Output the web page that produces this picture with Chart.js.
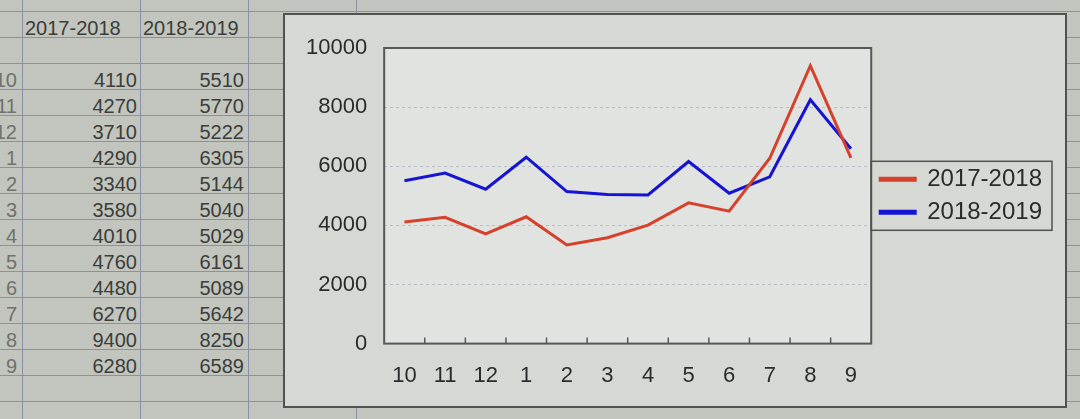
<!DOCTYPE html>
<html>
<head>
<meta charset="utf-8">
<script src="https://cdn.jsdelivr.net/npm/chart.js@4.4.0/dist/chart.umd.min.js"></script>
<style>
  html, body { margin: 0; padding: 0; width: 1080px; height: 419px; overflow: hidden; }
  body { position: relative; background: #c1c5bd; font-family: "Liberation Sans", Arial, sans-serif; }
  .hline { position: absolute; left: 0; width: 1080px; height: 1px; background: #8a90a6; }
  .vline { position: absolute; top: 0; height: 419px; width: 1px; background: #8a90a6; }
  .cell { position: absolute; height: 22px; line-height: 22px; font-size: 20px; color: #3b3d3a; white-space: nowrap; }
  .rowlab { color: #6e716c; }
  #frame { position: absolute; left: 283px; top: 13px; width: 784px; height: 395px;
           background: #d6d9d3; border: 2px solid #4f524e; box-sizing: border-box; }
  #frame canvas { position: absolute; left: -2px; top: -2px; }
</style>
</head>
<body>
<div id="sheet"></div>
<div id="frame"><canvas id="salesChart" width="784" height="395"></canvas></div>
<script>
// values
const months = ['10', '11', '12', '1', '2', '3', '4', '5', '6', '7', '8', '9'];
const sales1718 = [4110, 4270, 3710, 4290, 3340, 3580, 4010, 4760, 4480, 6270, 9400, 6280];
const sales1819 = [5510, 5770, 5222, 6305, 5144, 5040, 5029, 6161, 5089, 5642, 8250, 6589];
const seriesNames = ['2017-2018', '2018-2019'];
const yMax = 10000;
const yStep = 2000;

// spreadsheet behind the chart
function buildSheet() {
    let sheet = document.getElementById('sheet');
    let rowTop = 11, rowH = 26;
    let cols = [22, 140, 248, 356];

    for (let k = -1; k < 16; k++) {
        let l = document.createElement('div');
        l.className = 'hline';
        l.style.top = (rowTop + k * rowH) + 'px';
        sheet.appendChild(l);
    }
    cols.forEach(function (x) {
        let l = document.createElement('div');
        l.className = 'vline';
        l.style.left = x + 'px';
        sheet.appendChild(l);
    });

    function addText(txt, rowIdx, x, align, cls) {
        let d = document.createElement('div');
        d.className = 'cell' + (cls ? ' ' + cls : '');
        d.innerText = txt;
        let bottom = rowTop + (rowIdx + 1) * rowH;
        d.style.top = (bottom - 20) + 'px';
        if (align === 'right') {
            d.style.right = (1080 - x) + 'px';
        } else {
            d.style.left = x + 'px';
        }
        sheet.appendChild(d);
    }

    addText(seriesNames[0], 0, 25, 'left');
    addText(seriesNames[1], 0, 143, 'left');
    for (let i = 0; i < months.length; i++) {
        addText(months[i], i + 2, 17, 'right', 'rowlab');
        addText(String(sales1718[i]), i + 2, 137, 'right');
        addText(String(sales1819[i]), i + 2, 244, 'right');
    }
}
buildSheet();

// plot background, frame and small inward ticks on the category axis
const plotFrame = {
    id: 'plotFrame',
    beforeDraw(chart) {
        let a = chart.chartArea, c = chart.ctx;
        c.save();
        c.fillStyle = '#e1e3e0';
        c.fillRect(a.left, a.top, a.right - a.left, a.bottom - a.top);
        c.restore();
    },
    afterDraw(chart) {
        let a = chart.chartArea, c = chart.ctx, xs = chart.scales.x;
        c.save();
        c.strokeStyle = '#555855';
        c.lineWidth = 2;
        c.strokeRect(a.left, a.top, a.right - a.left, a.bottom - a.top);
        c.lineWidth = 1.5;
        c.beginPath();
        for (let i = 1; i < months.length; i++) {
            let x = (xs.getPixelForValue(i - 1) + xs.getPixelForValue(i)) / 2;
            c.moveTo(x, a.bottom);
            c.lineTo(x, a.bottom - 6);
        }
        c.stroke();

        // box round the legend items
        let lg = chart.legend;
        if (lg && lg.legendHitBoxes && lg.legendHitBoxes.length) {
            let hb = lg.legendHitBoxes;
            let top = hb[0].top - 6;
            let bottom = hb[hb.length - 1].top + hb[hb.length - 1].height + 6;
            c.lineWidth = 1.5;
            c.strokeStyle = '#4f524e';
            c.strokeRect(lg.left, top, lg.right - lg.left, bottom - top);
        }
        c.restore();
    }
};

let ctx = document.getElementById('salesChart').getContext('2d');
new Chart(ctx, {
    type: 'line',
    data: {
        labels: months,
        datasets: [{
            label: seriesNames[0],
            data: sales1718,
            borderColor: '#d6412b',
            backgroundColor: '#d6412b',
            borderWidth: 3,
            pointRadius: 0,
            tension: 0
        }, {
            label: seriesNames[1],
            data: sales1819,
            borderColor: '#1414d2',
            backgroundColor: '#1414d2',
            borderWidth: 3,
            pointRadius: 0,
            tension: 0
        }]
    },
    options: {
        responsive: false,
        animation: false,
        layout: { padding: { left: 6, top: 35, right: 15, bottom: 0 } },
        plugins: {
            tooltip: { enabled: false },
            legend: {
                position: 'right',
                fullSize: false,
                labels: {
                    boxWidth: 35,
                    boxHeight: 2,
                    padding: 9,
                    color: '#2b2b2b',
                    font: { family: '"Liberation Sans", Arial, sans-serif', size: 24 }
                }
            }
        },
        scales: {
            x: {
                offset: true,
                grid: { display: false, drawTicks: false },
                border: { display: false },
                ticks: {
                    color: '#2b2b2b',
                    padding: 19,
                    maxRotation: 0,
                    font: { family: '"Liberation Sans", Arial, sans-serif', size: 22 }
                }
            },
            y: {
                min: 0,
                max: yMax,
                grid: { color: 'rgba(135,145,165,0.45)', drawTicks: false },
                border: { display: false, dash: [3, 3] },
                ticks: {
                    stepSize: yStep,
                    color: '#2b2b2b',
                    padding: 17,
                    font: { family: '"Liberation Sans", Arial, sans-serif', size: 22 },
                    callback: function (v) { return String(v); }
                }
            }
        }
    },
    plugins: [plotFrame]
});
</script>
</body>
</html>
